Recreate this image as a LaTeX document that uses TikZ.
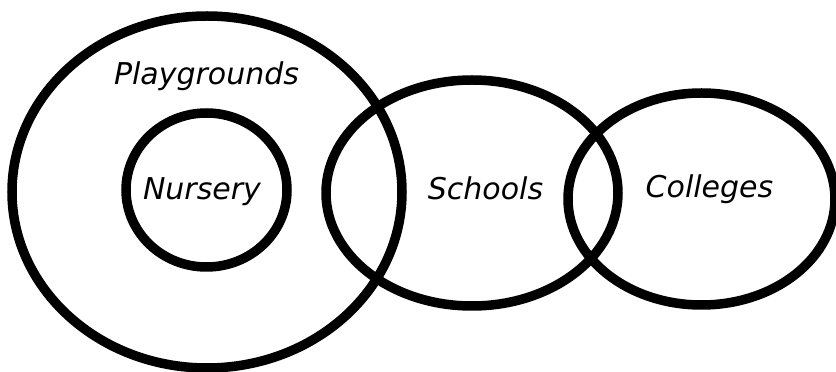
\documentclass[tikz,border=0pt]{standalone}
\usepackage{fontspec}
\setmainfont{DejaVu Sans}
\usetikzlibrary{shapes.geometric}
\begin{document}
\begin{tikzpicture}[x=1pt,y=1pt,
  ring/.style={draw=black,line width=9.5pt,ellipse,inner sep=0pt,outer sep=0pt},
  lbl/.style={anchor=base,inner sep=0pt,font=\fontsize{30}{36}\selectfont\itshape}]
\useasboundingbox (0,0) rectangle (836,372);
\fill[white] (0,0) rectangle (836,372);
\node[ring,minimum width=390pt,minimum height=352pt] (play) at (207,180) {};
\node[ring,minimum width=161pt,minimum height=154pt] (nurs) at (206.5,182) {};
\node[ring,minimum width=292pt,minimum height=226pt] (schl) at (472,179) {};
\node[ring,minimum width=267pt,minimum height=212pt] (coll) at (701.5,173) {};
\node[lbl] (tplay) at (206.5,287) {Playgrounds};
\node[lbl] (tnurs) at (202,172) {Nursery};
\node[lbl] (tschl) at (485.5,172) {Schools};
\node[lbl] (tcoll) at (709.5,174) {Colleges};
\end{tikzpicture}
\end{document}
